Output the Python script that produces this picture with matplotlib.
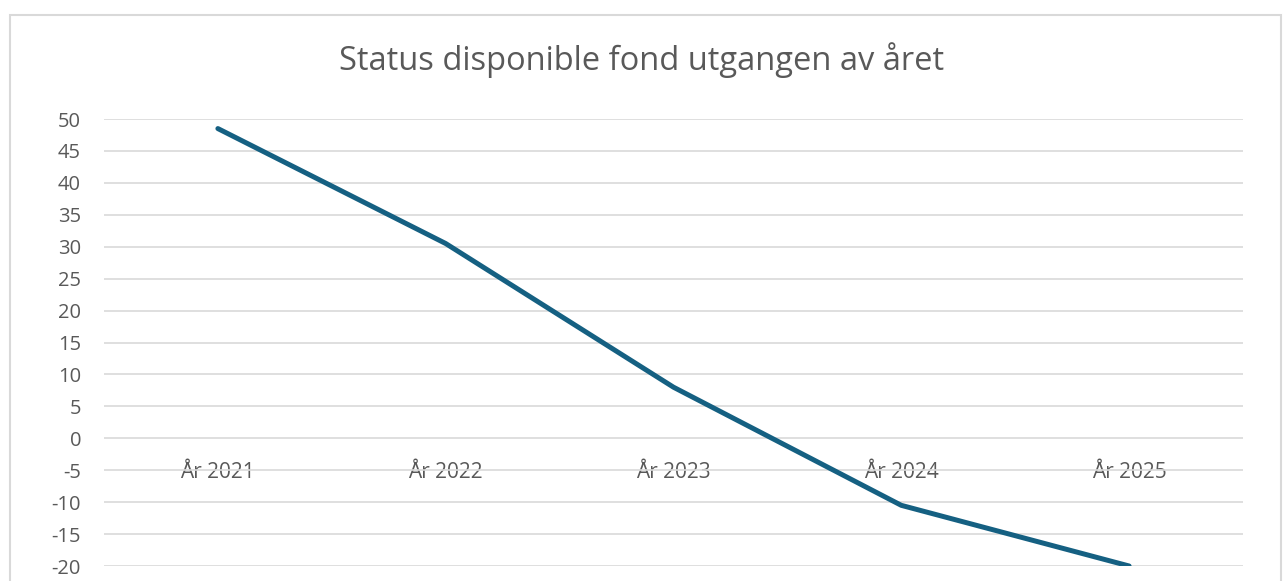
import matplotlib
matplotlib.use("Agg")
import matplotlib.pyplot as plt
from matplotlib.patches import Rectangle

# Data
years = ["År 2021", "År 2022", "År 2023", "År 2024", "År 2025"]
fund = [48.5, 30.5, 8.0, -10.5, -20.0]
yticks = list(range(-20, 55, 5))

text_color = "#595959"
grid_color = "#d9d9d9"
line_color = "#156082"

plt.rcParams['font.family'] = ['Open Sans', 'DejaVu Sans']

fig = plt.figure(figsize=(12.83, 5.81), dpi=100)
ax = fig.add_axes([104 / 1283, 1 - 566 / 581, (1243 - 104) / 1283, (566 - 119) / 581])

# chart frame, cut off at the bottom like the screenshot
fig.patches.append(Rectangle((10 / 1283, -0.1), (1281 - 10) / 1283, 1.1 - 15 / 581,
                             transform=fig.transFigure, fill=False,
                             edgecolor=grid_color, linewidth=1.5))

x = list(range(len(years)))
ax.plot(x, fund, color=line_color, linewidth=3.6, solid_capstyle="round", zorder=3)

ax.set_xlim(-0.5, len(years) - 0.5)
ax.set_ylim(-20, 50)
ax.set_yticks(yticks)
ax.set_yticklabels([str(v) for v in yticks])
ax.grid(axis="y", color=grid_color, linewidth=1.2)
ax.set_axisbelow(True)

# category labels sit just under the zero line
ax.spines["bottom"].set_position(("data", 0))
ax.set_xticks(x)
ax.set_xticklabels(years)
for side in ["top", "right", "left", "bottom"]:
    ax.spines[side].set_visible(False)
ax.tick_params(axis="x", length=0, pad=17, labelsize=15, labelcolor=text_color)
ax.tick_params(axis="y", length=0, pad=16.5, labelsize=14.5, labelcolor=text_color)

fig.text(0.5, 1 - 60 / 581, "Status disponible fond utgangen av året",
         ha="center", va="center", fontsize=23.5, color=text_color)

fig.savefig("out.png", dpi=100)
